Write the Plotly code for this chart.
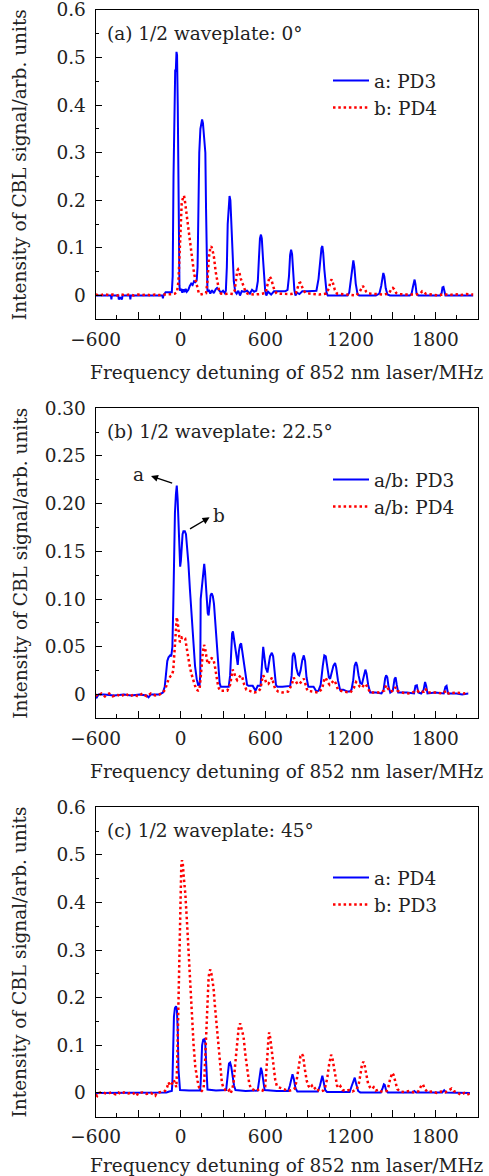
import plotly.graph_objects as go

# ---------------- data ----------------
X_TICKS = [-600, -300, 0, 300, 600, 900, 1200, 1500, 1800, 2100]
X_TICKTEXT = ["\u2212600", "", "0", "", "600", "", "1200", "", "1800", ""]
Y_TICKS_AC = [0, 0.1, 0.2, 0.3, 0.4, 0.5, 0.6]
Y_TICKTEXT_AC = ["0", "0.1", "0.2", "0.3", "0.4", "0.5", "0.6"]
Y_TICKS_B = [0, 0.05, 0.10, 0.15, 0.20, 0.25, 0.30]
Y_TICKTEXT_B = ["0", "0.05", "0.10", "0.15", "0.20", "0.25", "0.30"]

PANEL_LABELS = ["(a) 1/2 waveplate: 0\u00b0", "(b) 1/2 waveplate: 22.5\u00b0", "(c) 1/2 waveplate: 45\u00b0"]
LEGEND_NAMES = [("a: PD3", "b: PD4"), ("a/b: PD3", "a/b: PD4"), ("a: PD4", "b: PD3")]

# panel (a) blue : a: PD3
A_BLUE = [(-600, 0.0), (-492, 0.0), (-489, -0.008), (-486, 0.0), (-440, 0.0), (-437, -0.008), (-425, -0.005),
          (-414, -0.008), (-411, 0.0), (-358, 0.0), (-355, -0.008), (-352, 0.0), (-128, 0.0), (-125, -0.006),
          (-121, 0.0), (-110, 0.004), (-106, 0.007), (-62, 0.007), (-56, 0.04), (-50, 0.25), (-44, 0.45),
          (-38, 0.475), (-34, 0.47), (-29, 0.512), (-25, 0.505), (-20, 0.4), (-14, 0.15), (-8, 0.02), (-4, 0.01),
          (5, 0.014), (12, 0.006), (20, 0.013), (28, 0.007), (36, 0.014), (44, 0.008), (55, 0.012), (65, 0.02),
          (75, 0.025), (85, 0.022), (95, 0.03), (105, 0.028), (114, 0.032), (120, 0.06), (126, 0.2), (132, 0.3),
          (140, 0.35), (146, 0.368), (152, 0.37), (158, 0.362), (164, 0.345), (170, 0.315), (175, 0.3),
          (180, 0.18), (185, 0.03), (190, 0.008), (200, 0.012), (210, 0.004), (222, 0.011), (235, 0.005),
          (248, 0.013), (258, 0.016), (270, 0.012), (285, 0.006), (300, 0.01), (312, 0.005), (320, 0.01),
          (327, 0.06), (333, 0.15), (340, 0.2), (346, 0.209), (352, 0.2), (360, 0.15), (368, 0.08), (376, 0.03),
          (386, 0.008), (396, 0.004), (408, 0.01), (420, 0.0), (432, 0.009), (450, 0.008), (470, 0.01),
          (490, 0.004), (505, 0.012), (520, 0.008), (535, 0.01), (546, 0.03), (554, 0.08), (561, 0.12),
          (568, 0.128), (574, 0.12), (582, 0.08), (590, 0.035), (598, 0.01), (606, 0.0), (618, 0.008),
          (640, 0.002), (660, 0.009), (700, 0.009), (740, 0.009), (756, 0.012), (766, 0.04), (774, 0.085),
          (781, 0.0965), (788, 0.087), (795, 0.045), (804, 0.012), (812, 0.0), (822, 0.006), (840, 0.003),
          (860, 0.009), (900, 0.009), (940, 0.009), (960, 0.01), (975, 0.035), (986, 0.08), (996, 0.1),
          (1002, 0.104), (1008, 0.09), (1016, 0.055), (1024, 0.02), (1032, 0.006), (1040, 0.0), (1080, 0.0),
          (1140, 0.0), (1180, 0.0), (1192, 0.006), (1204, 0.035), (1214, 0.068), (1221, 0.074), (1228, 0.06),
          (1238, 0.025), (1250, 0.004), (1262, 0.0), (1380, 0.0), (1405, 0.004), (1418, 0.02), (1428, 0.045),
          (1433, 0.0475), (1440, 0.04), (1450, 0.015), (1462, 0.002), (1480, 0.0), (1620, 0.0), (1632, 0.003),
          (1642, 0.018), (1649, 0.033), (1654, 0.0335), (1660, 0.024), (1668, 0.004), (1680, 0.0), (1835, 0.0),
          (1845, 0.005), (1851, 0.017), (1858, 0.018), (1864, 0.006), (1872, 0.0), (2068, 0.0)]

# panel (a) red : b: PD4
A_RED = [(-600, 0.002), (-570, 0.0), (-540, 0.003), (-510, 0.001), (-480, 0.002), (-450, 0.0), (-420, 0.002),
         (-390, 0.001), (-360, 0.002), (-330, 0.0), (-300, 0.002), (-270, 0.001), (-240, 0.002), (-210, 0.0),
         (-180, 0.002), (-150, 0.001), (-120, 0.002), (-90, 0.002), (-60, 0.003), (-40, 0.004), (-25, 0.008),
         (-15, 0.03), (-8, 0.09), (0, 0.16), (8, 0.195), (17, 0.205), (24, 0.21), (30, 0.2), (40, 0.175),
         (52, 0.15), (62, 0.13), (72, 0.1), (84, 0.07), (96, 0.045), (108, 0.03), (118, 0.015), (128, 0.006),
         (140, 0.002), (160, 0.003), (180, 0.005), (190, 0.03), (200, 0.08), (210, 0.1), (217, 0.1035),
         (226, 0.095), (236, 0.08), (248, 0.05), (260, 0.025), (272, 0.01), (285, 0.004), (310, 0.003),
         (340, 0.004), (370, 0.003), (382, 0.01), (392, 0.04), (400, 0.052), (406, 0.0546), (414, 0.05),
         (426, 0.035), (438, 0.025), (450, 0.015), (462, 0.006), (480, 0.003), (520, 0.002), (560, 0.003),
         (600, 0.005), (612, 0.02), (622, 0.035), (630, 0.04), (640, 0.035), (652, 0.02), (664, 0.01),
         (680, 0.004), (720, 0.003), (780, 0.003), (815, 0.005), (828, 0.015), (838, 0.026), (846, 0.027),
         (856, 0.02), (870, 0.01), (885, 0.005), (920, 0.004), (980, 0.002), (1030, 0.004), (1048, 0.015),
         (1060, 0.03), (1068, 0.034), (1078, 0.025), (1090, 0.012), (1105, 0.004), (1150, 0.003),
         (1200, 0.002), (1240, 0.0), (1262, 0.006), (1278, 0.015), (1288, 0.02), (1298, 0.015), (1312, 0.008),
         (1330, 0.004), (1380, 0.003), (1440, 0.002), (1475, 0.005), (1490, 0.014), (1500, 0.016),
         (1510, 0.013), (1525, 0.005), (1545, 0.003), (1600, 0.002), (1660, 0.002), (1695, 0.004),
         (1708, 0.009), (1718, 0.008), (1735, 0.003), (1780, 0.002), (1820, 0.0), (1860, 0.003),
         (1900, 0.001), (1940, 0.003), (1980, 0.001), (2020, 0.003), (2068, 0.002)]

# panel (b) blue : a/b: PD3
B_BLUE = [(-600, -0.001), (-592, -0.003), (-580, 0.0), (-540, 0.0), (-470, -0.001), (-400, 0.0), (-350, -0.001),
          (-290, 0.0), (-240, -0.001), (-226, -0.003), (-210, 0.0), (-150, 0.0), (-125, 0.002), (-112, 0.008),
          (-104, 0.02), (-94, 0.035), (-85, 0.039), (-74, 0.041), (-66, 0.04), (-58, 0.05), (-52, 0.09),
          (-46, 0.15), (-40, 0.19), (-33, 0.21), (-27, 0.219), (-21, 0.205), (-14, 0.18), (-8, 0.15),
          (-3, 0.134), (2, 0.14), (8, 0.158), (14, 0.168), (20, 0.171), (30, 0.171), (38, 0.168), (46, 0.155),
          (55, 0.138), (66, 0.11), (78, 0.08), (90, 0.05), (102, 0.03), (114, 0.016), (124, 0.01), (134, 0.01),
          (139, 0.02), (142, 0.1), (148, 0.11), (155, 0.125), (162, 0.134), (167, 0.137), (173, 0.128),
          (180, 0.11), (186, 0.095), (192, 0.085), (198, 0.083), (205, 0.095), (212, 0.104), (220, 0.106),
          (228, 0.103), (236, 0.095), (246, 0.075), (256, 0.05), (266, 0.03), (276, 0.012), (284, 0.008),
          (300, 0.008), (320, 0.008), (340, 0.008), (350, 0.02), (358, 0.05), (364, 0.064), (370, 0.066),
          (378, 0.058), (388, 0.045), (398, 0.033), (404, 0.031), (412, 0.045), (420, 0.052), (428, 0.0535),
          (436, 0.045), (446, 0.03), (458, 0.018), (470, 0.01), (480, 0.009), (510, 0.009), (530, 0.004),
          (545, 0.009), (565, 0.009), (572, 0.03), (578, 0.047), (584, 0.05), (592, 0.04), (602, 0.028),
          (614, 0.023), (622, 0.03), (632, 0.04), (645, 0.0437), (654, 0.04), (664, 0.025), (674, 0.01),
          (684, 0.008), (720, 0.008), (775, 0.009), (785, 0.02), (792, 0.04), (800, 0.0437), (808, 0.04),
          (818, 0.028), (830, 0.021), (838, 0.02), (848, 0.025), (860, 0.036), (871, 0.041), (880, 0.035),
          (890, 0.018), (903, 0.008), (940, 0.008), (960, 0.003), (975, 0.004), (990, 0.01), (1005, 0.03),
          (1016, 0.041), (1026, 0.04), (1036, 0.028), (1048, 0.018), (1057, 0.0165), (1068, 0.022),
          (1080, 0.03), (1092, 0.033), (1100, 0.028), (1112, 0.015), (1127, 0.005), (1150, 0.005),
          (1180, 0.003), (1195, 0.003), (1208, 0.005), (1220, 0.015), (1230, 0.03), (1240, 0.034),
          (1248, 0.03), (1258, 0.02), (1270, 0.012), (1282, 0.011), (1296, 0.02), (1306, 0.026), (1314, 0.022),
          (1326, 0.01), (1340, 0.002), (1380, 0.002), (1420, 0.001), (1435, 0.005), (1446, 0.017),
          (1453, 0.02), (1461, 0.018), (1470, 0.008), (1482, 0.002), (1500, 0.004), (1512, 0.016),
          (1520, 0.018), (1528, 0.01), (1538, 0.002), (1600, 0.002), (1650, 0.001), (1660, 0.009),
          (1670, 0.0095), (1680, 0.002), (1700, 0.001), (1718, 0.005), (1728, 0.013), (1736, 0.009),
          (1745, 0.001), (1800, 0.002), (1860, 0.001), (1872, 0.008), (1880, 0.009), (1890, 0.001),
          (1950, 0.001), (1990, 0.0), (2033, 0.001)]

# panel (b) red : a/b: PD4
B_RED = [(-600, 0.0), (-585, -0.002), (-560, 0.001), (-535, -0.002), (-505, 0.001), (-480, -0.002), (-450, 0.0),
         (-420, -0.002), (-390, 0.001), (-360, -0.002), (-330, 0.0), (-300, -0.002), (-270, 0.001),
         (-240, -0.002), (-210, 0.001), (-180, -0.001), (-150, 0.0), (-125, 0.002), (-110, 0.005),
         (-95, 0.012), (-85, 0.016), (-72, 0.019), (-62, 0.02), (-52, 0.025), (-44, 0.045), (-36, 0.07),
         (-27, 0.081), (-20, 0.075), (-12, 0.065), (-5, 0.055), (2, 0.056), (10, 0.06), (20, 0.06), (32, 0.059),
         (42, 0.05), (52, 0.04), (64, 0.03), (76, 0.022), (88, 0.015), (100, 0.01), (112, 0.005), (124, 0.004),
         (134, 0.005), (142, 0.02), (150, 0.035), (158, 0.045), (166, 0.052), (174, 0.048), (182, 0.04),
         (190, 0.033), (198, 0.032), (208, 0.037), (220, 0.038), (232, 0.037), (242, 0.03), (254, 0.018),
         (266, 0.008), (278, 0.004), (300, 0.004), (330, 0.004), (350, 0.01), (360, 0.02), (368, 0.026),
         (376, 0.024), (388, 0.018), (400, 0.015), (412, 0.018), (424, 0.02), (436, 0.018), (450, 0.01),
         (465, 0.005), (480, 0.004), (520, 0.002), (550, 0.003), (565, 0.006), (575, 0.015), (584, 0.02),
         (594, 0.017), (606, 0.012), (620, 0.011), (634, 0.015), (646, 0.0176), (656, 0.012), (668, 0.006),
         (690, 0.003), (720, 0.002), (760, 0.003), (785, 0.01), (800, 0.0176), (812, 0.014), (826, 0.011),
         (840, 0.011), (856, 0.014), (871, 0.0165), (882, 0.011), (896, 0.004), (930, 0.003), (975, 0.002),
         (1000, 0.006), (1016, 0.016), (1026, 0.0176), (1038, 0.013), (1054, 0.01), (1068, 0.012),
         (1084, 0.0148), (1096, 0.012), (1112, 0.005), (1150, 0.003), (1200, 0.002), (1225, 0.007),
         (1240, 0.013), (1252, 0.011), (1268, 0.008), (1282, 0.007), (1296, 0.01), (1308, 0.011),
         (1320, 0.007), (1340, 0.002), (1400, 0.002), (1440, 0.004), (1452, 0.0095), (1462, 0.007),
         (1480, 0.003), (1505, 0.004), (1520, 0.0077), (1532, 0.004), (1560, 0.002), (1620, 0.001),
         (1660, 0.003), (1672, 0.004), (1690, 0.002), (1720, 0.003), (1732, 0.006), (1745, 0.002),
         (1800, 0.002), (1850, 0.001), (1880, 0.004), (1895, 0.001), (1950, 0.002), (2000, 0.001),
         (2033, 0.002)]

# panel (c) blue : a: PD4
C_BLUE = [(-600, 0.0), (-500, 0.0), (-400, 0.001), (-300, 0.0), (-200, 0.0), (-100, 0.001), (-80, 0.003),
          (-66, 0.004), (-62, 0.004), (-58, 0.02), (-53, 0.1), (-47, 0.16), (-40, 0.178), (-32, 0.182),
          (-26, 0.175), (-20, 0.13), (-15, 0.05), (-10, 0.012), (-4, 0.006), (60, 0.005), (138, 0.005),
          (142, 0.02), (146, 0.08), (152, 0.1), (160, 0.112), (168, 0.113), (174, 0.105), (180, 0.07),
          (185, 0.02), (190, 0.007), (250, 0.005), (322, 0.006), (327, 0.02), (334, 0.05), (342, 0.062),
          (350, 0.064), (358, 0.055), (368, 0.035), (378, 0.015), (388, 0.006), (460, 0.004), (545, 0.005),
          (552, 0.02), (560, 0.045), (568, 0.053), (575, 0.045), (584, 0.02), (594, 0.006), (680, 0.004),
          (760, 0.004), (772, 0.015), (784, 0.036), (791, 0.039), (800, 0.03), (812, 0.01), (825, 0.003),
          (900, 0.003), (970, 0.003), (985, 0.015), (996, 0.034), (1002, 0.036), (1010, 0.025), (1022, 0.006),
          (1035, 0.002), (1120, 0.002), (1195, 0.002), (1210, 0.015), (1225, 0.031), (1231, 0.032),
          (1240, 0.02), (1255, 0.004), (1270, 0.001), (1415, 0.001), (1428, 0.01), (1437, 0.018),
          (1443, 0.017), (1452, 0.006), (1465, 0.001), (1640, 0.001), (1652, 0.004), (1665, 0.001),
          (1850, 0.001), (1863, 0.0056), (1876, 0.001), (2045, 0.0)]

# panel (c) red : b: PD3
C_RED = [(-600, -0.003), (-590, -0.006), (-580, 0.0), (-550, 0.001), (-520, -0.002), (-490, 0.001),
         (-460, -0.003), (-440, 0.001), (-420, -0.003), (-400, 0.001), (-370, -0.001), (-340, 0.001),
         (-310, -0.006), (-300, 0.0), (-270, 0.001), (-240, -0.002), (-210, 0.0), (-190, -0.003),
         (-179, -0.006), (-170, 0.0), (-140, 0.002), (-110, 0.004), (-95, 0.012), (-85, 0.022), (-75, 0.015),
         (-60, 0.02), (-48, 0.027), (-38, 0.02), (-30, 0.012), (-24, 0.06), (-18, 0.15), (-12, 0.26),
         (-6, 0.37), (0, 0.45), (5, 0.478), (10, 0.489), (16, 0.48), (22, 0.455), (33, 0.42), (45, 0.36),
         (57, 0.294), (68, 0.22), (80, 0.153), (92, 0.1), (104, 0.055), (112, 0.035), (120, 0.025),
         (130, 0.012), (139, 0.006), (150, 0.004), (162, 0.008), (168, 0.03), (174, 0.0765), (182, 0.14),
         (190, 0.2), (198, 0.242), (204, 0.255), (210, 0.259), (218, 0.25), (226, 0.235), (233, 0.22),
         (242, 0.185), (252, 0.153), (262, 0.105), (275, 0.062), (284, 0.035), (292, 0.021), (304, 0.01),
         (316, 0.006), (330, 0.002), (345, 0.006), (355, 0.0), (365, 0.008), (374, 0.02), (386, 0.06),
         (398, 0.104), (410, 0.135), (421, 0.146), (432, 0.135), (445, 0.118), (458, 0.08), (473, 0.041),
         (485, 0.02), (496, 0.01), (510, 0.008), (530, 0.004), (560, 0.008), (580, 0.005), (598, 0.013),
         (606, 0.04), (614, 0.08), (620, 0.11), (626, 0.127), (634, 0.115), (645, 0.09), (656, 0.055),
         (669, 0.027), (680, 0.015), (692, 0.012), (710, 0.01), (730, 0.007), (760, 0.004), (790, 0.006),
         (809, 0.01), (822, 0.03), (835, 0.055), (847, 0.077), (857, 0.082), (866, 0.077), (878, 0.05),
         (892, 0.025), (903, 0.015), (915, 0.01), (928, 0.015), (940, 0.008), (960, 0.012), (975, 0.005),
         (990, 0.003), (1010, 0.005), (1022, 0.012), (1036, 0.03), (1050, 0.06), (1058, 0.078), (1064, 0.08),
         (1072, 0.075), (1082, 0.055), (1095, 0.03), (1106, 0.015), (1118, 0.01), (1130, 0.014),
         (1145, 0.006), (1165, 0.004), (1190, 0.006), (1215, 0.003), (1245, 0.008), (1260, 0.02),
         (1272, 0.04), (1282, 0.06), (1292, 0.0655), (1300, 0.06), (1312, 0.04), (1325, 0.02), (1338, 0.012),
         (1351, 0.008), (1365, 0.012), (1380, 0.005), (1400, 0.007), (1420, 0.003), (1456, 0.004),
         (1468, 0.012), (1480, 0.028), (1490, 0.04), (1496, 0.042), (1505, 0.038), (1518, 0.022),
         (1532, 0.008), (1551, 0.003), (1580, 0.002), (1620, 0.004), (1650, 0.001), (1680, 0.003),
         (1695, 0.01), (1706, 0.018), (1714, 0.017), (1726, 0.008), (1745, 0.002), (1780, 0.003),
         (1810, 0.0), (1840, 0.003), (1870, 0.001), (1900, 0.006), (1915, 0.009), (1930, 0.004),
         (1960, 0.0), (1985, -0.004), (2005, 0.0), (2025, -0.004), (2045, -0.001)]

# ---------------- figure ----------------
FONT = "DejaVu Serif"
FS = 18.5
TXT = "#222222"
BLUE = "#0000ff"
RED = "#ff0000"

W, H = 489, 1176
X_DOMAIN = [95.7 / W, 477.7 / W]
Y_DOMAINS = [[1 - 319.3 / H, 1 - 10 / H], [1 - 718.3 / H, 1 - 408.3 / H], [1 - 1116.7 / H, 1 - 807.3 / H]]
Y_RANGES = [[-0.05, 0.6], [-0.025, 0.3], [-0.05, 0.6]]
Y_STANDOFF = [24, 12, 24]
LEGEND_TOPS = [62, 461, 859]

fig = go.Figure()
series = [(A_BLUE, A_RED), (B_BLUE, B_RED), (C_BLUE, C_RED)]
for i, (blue, red) in enumerate(series):
    sfx = "" if i == 0 else str(i + 1)
    leg = "legend" if i == 0 else "legend" + str(i + 1)
    bx, by = zip(*blue)
    rx, ry = zip(*red)
    fig.add_trace(go.Scatter(x=bx, y=by, mode="lines", name=LEGEND_NAMES[i][0],
                             line=dict(color=BLUE, width=2), xaxis="x" + sfx, yaxis="y" + sfx,
                             legend=leg, legendgroup=f"g{i}a"))
    fig.add_trace(go.Scatter(x=rx, y=ry, mode="lines", name=LEGEND_NAMES[i][1],
                             line=dict(color=RED, width=2.5, dash="2.5px,2.8px"), xaxis="x" + sfx,
                             yaxis="y" + sfx, legend=leg, legendgroup=f"g{i}b"))

axis_font = dict(family=FONT, size=FS, color=TXT)
layout = dict(width=W, height=H, margin=dict(l=0, r=0, t=0, b=0), paper_bgcolor="white",
              plot_bgcolor="white", showlegend=True)

for i in range(3):
    sfx = "" if i == 0 else str(i + 1)
    if i == 1:
        ytv, ytt, ymin = Y_TICKS_B, Y_TICKTEXT_B, 0.025
    else:
        ytv, ytt, ymin = Y_TICKS_AC, Y_TICKTEXT_AC, 0.05
    layout["xaxis" + sfx] = dict(
        domain=X_DOMAIN, anchor="y" + sfx, range=[-600, 2100], showgrid=False, zeroline=False,
        showline=True, linecolor="black", linewidth=1.3, mirror=True,
        ticks="inside", ticklen=7, tickwidth=1.2, tickcolor="black", ticklabelstandoff=3,
        ticklabeloverflow="allow",
        tickmode="array", tickvals=X_TICKS, ticktext=X_TICKTEXT, tickfont=axis_font,
        minor=dict(tick0=-600, dtick=150, ticks="inside", ticklen=4, tickwidth=1.2, tickcolor="black"),
        title=dict(text="Frequency detuning of 852 nm laser/MHz", font=axis_font, standoff=17),
        automargin=False)
    layout["yaxis" + sfx] = dict(
        domain=Y_DOMAINS[i], anchor="x" + sfx, range=Y_RANGES[i], showgrid=False, zeroline=False,
        showline=True, linecolor="black", linewidth=1.3, mirror=True,
        ticks="inside", ticklen=6, tickwidth=1.2, tickcolor="black", ticklabelstandoff=5,
        ticklabeloverflow="allow",
        tickmode="array", tickvals=ytv, ticktext=ytt, tickfont=axis_font,
        minor=dict(tick0=0, dtick=ymin, ticks="inside", ticklen=3.5, tickwidth=1.2, tickcolor="black"),
        title=dict(text="Intensity of CBL signal/arb. units", font=axis_font, standoff=Y_STANDOFF[i]),
        automargin=False)
    leg = "legend" if i == 0 else "legend" + str(i + 1)
    layout[leg] = dict(x=328 / W, y=1 - LEGEND_TOPS[i] / H, xanchor="left", yanchor="top",
                       bgcolor="rgba(0,0,0,0)", font=dict(family=FONT, size=FS, color=TXT),
                       tracegroupgap=0, traceorder="grouped", itemwidth=36)

fig.update_layout(**layout)

for i in range(3):
    sfx = "" if i == 0 else str(i + 1)
    fig.add_annotation(text=PANEL_LABELS[i], xref=f"x{sfx} domain", yref=f"y{sfx} domain",
                       x=0.024, y=0.925, xanchor="left", yanchor="middle", showarrow=False,
                       font=dict(family=FONT, size=FS, color=TXT))

# arrows and letters in panel (b)
ARROW_A = dict(head=(-209, 0.229), tail=(-49, 0.221), label=(-296, 0.2308))
ARROW_B = dict(head=(205, 0.1857), tail=(56, 0.1726), label=(268, 0.1874))
for letter, arr in (("a", ARROW_A), ("b", ARROW_B)):
    fig.add_annotation(x=arr["head"][0], y=arr["head"][1], ax=arr["tail"][0], ay=arr["tail"][1],
                       xref="x2", yref="y2", axref="x2", ayref="y2", text="", showarrow=True,
                       arrowhead=2, arrowsize=1, arrowwidth=1.4, arrowcolor="black", standoff=0,
                       startstandoff=0)
    fig.add_annotation(x=arr["label"][0], y=arr["label"][1], xref="x2", yref="y2", text=letter,
                       showarrow=False, font=dict(family=FONT, size=FS, color=TXT))

fig.write_html("out.html", config={"displayModeBar": False},
               post_script="document.body.style.margin='0';document.body.style.padding='0';"
                           "document.documentElement.style.overflow='hidden';")
